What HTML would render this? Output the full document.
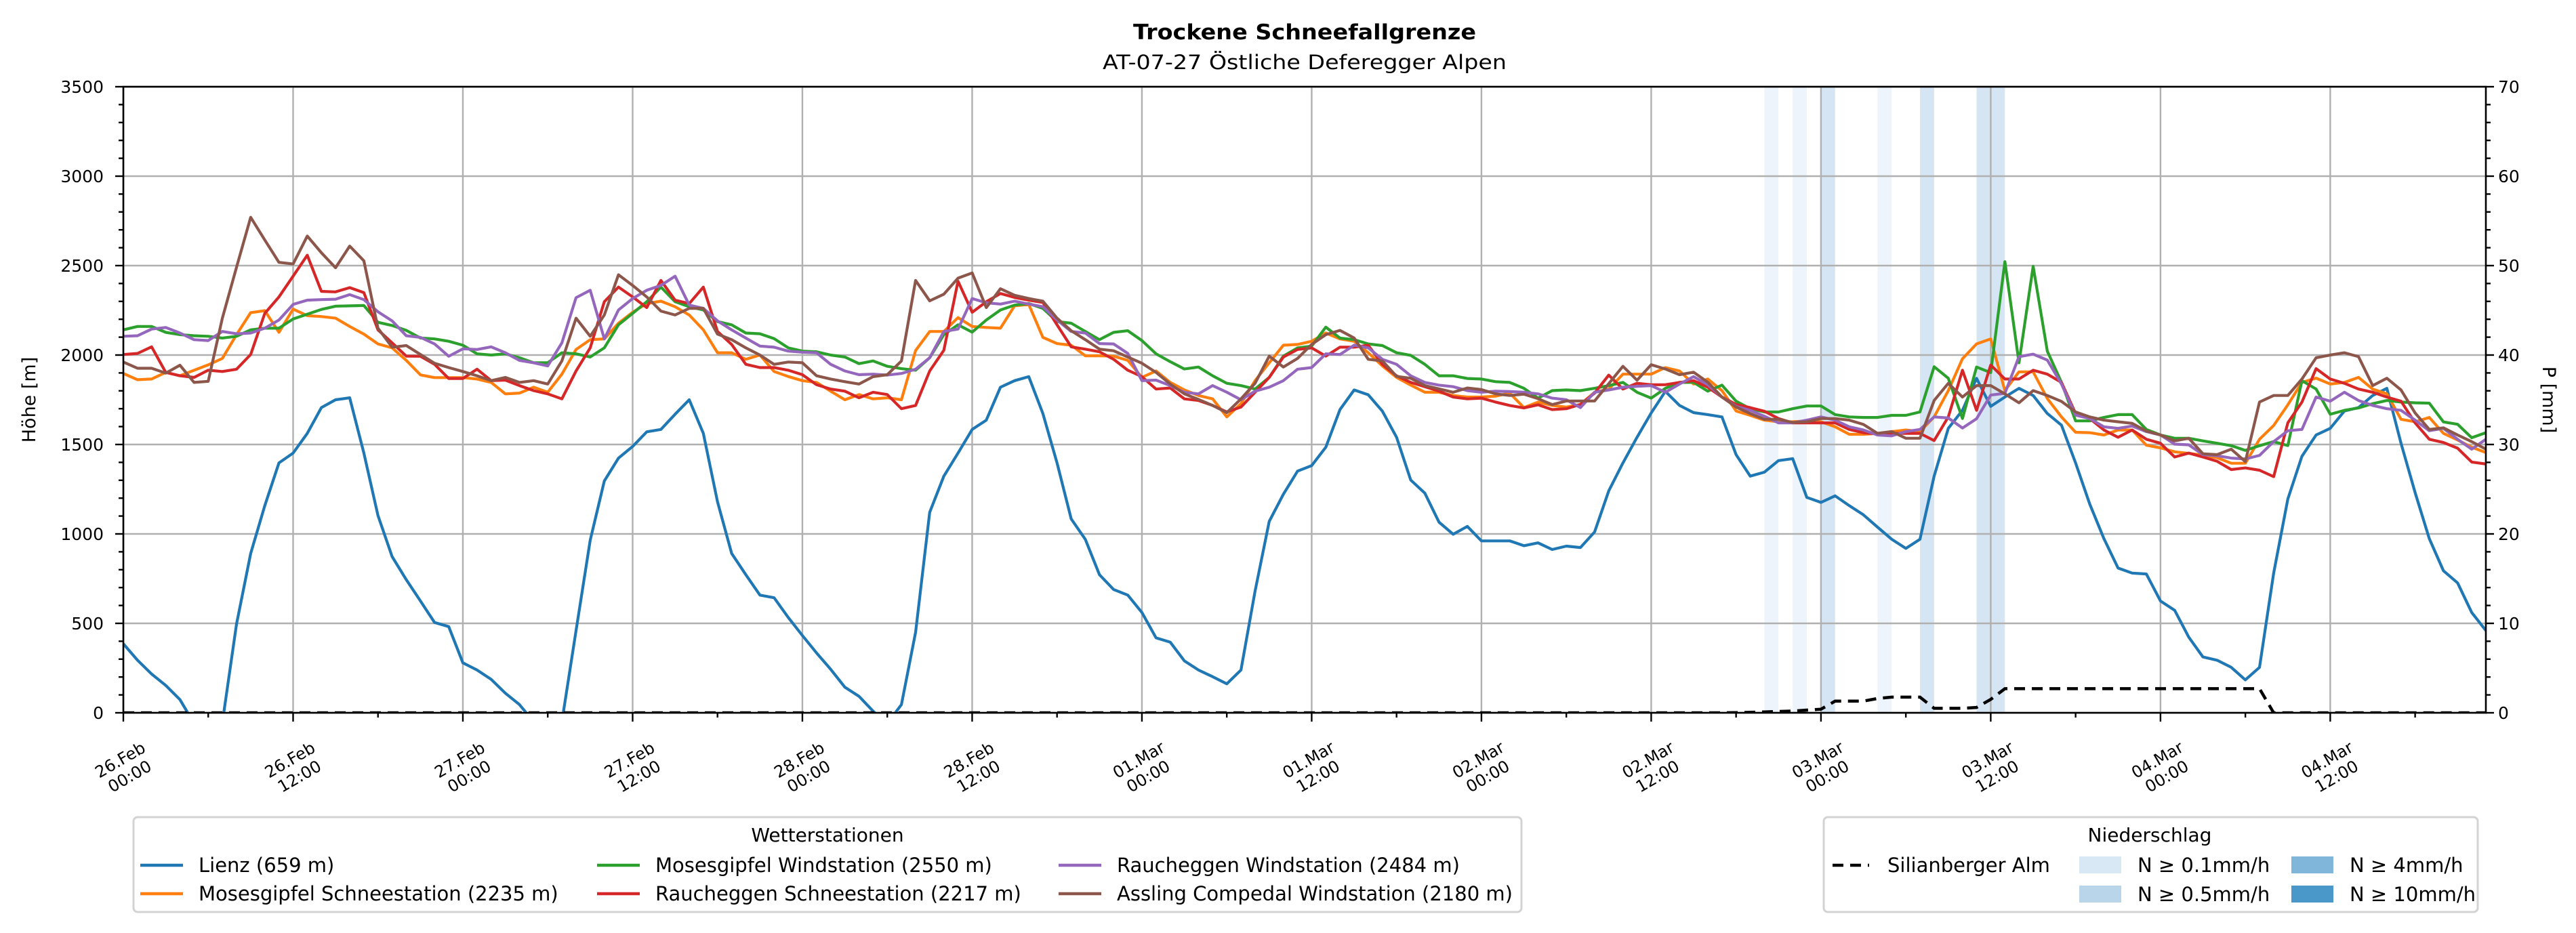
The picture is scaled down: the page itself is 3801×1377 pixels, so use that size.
<!DOCTYPE html>
<html><head><meta charset="utf-8">
<style>
html,body{margin:0;padding:0;background:#fff;}
svg{display:block;}
text{font-family:"DejaVu Sans","Liberation Sans",sans-serif;fill:#000;}
</style></head>
<body>
<svg id="chart" width="3801" height="1377" viewBox="0 0 3801 1377" xmlns="http://www.w3.org/2000/svg">
<defs><clipPath id="plotclip"><rect x="182" y="128" width="3486" height="924"/></clipPath></defs>
<rect x="0" y="0" width="3801" height="1377" fill="#fff"/>
<text x="1925" y="58" text-anchor="middle" font-size="31" font-weight="bold" textLength="506" lengthAdjust="spacingAndGlyphs">Trockene Schneefallgrenze</text>
<text x="1925" y="102" text-anchor="middle" font-size="29" textLength="596" lengthAdjust="spacingAndGlyphs">AT-07-27 Östliche Deferegger Alpen</text>
<g id="bands" clip-path="url(#plotclip)"></g>
<g id="grid"></g>
<g id="series" clip-path="url(#plotclip)"></g>
<g id="axes"></g>
<text x="52" y="590" text-anchor="middle" font-size="27" transform="rotate(-90 52 590)">Höhe [m]</text>
<text x="3752" y="590" text-anchor="middle" font-size="27" transform="rotate(90 3752 590)">P [mm]</text>
<g id="legend1"></g>
<g id="legend2"></g>
</svg>
<script>
const stationNames = ["Lienz (659 m)","Mosesgipfel Schneestation (2235 m)","Mosesgipfel Windstation (2550 m)","Raucheggen Schneestation (2217 m)","Raucheggen Windstation (2484 m)","Assling Compedal Windstation (2180 m)"];
const lienz = [386,294,217,153,74,-60,-150,-55,496,891,1158,1397,1452,1562,1706,1750,1761,1452,1103,873,744,625,505,482,279,239,187,110,46,-50,-150,-50,460,965,1296,1424,1489,1571,1584,1669,1750,1562,1180,891,772,658,643,533,432,335,243,143,92,9,-60,46,450,1121,1323,1452,1584,1636,1820,1857,1879,1673,1397,1084,970,772,689,658,561,419,395,290,239,202,162,239,680,1070,1222,1351,1382,1485,1695,1805,1778,1686,1540,1301,1228,1066,998,1042,961,961,961,934,950,913,932,924,1011,1241,1397,1540,1676,1797,1718,1678,1667,1654,1443,1323,1345,1410,1421,1204,1176,1213,1158,1107,1038,970,919,970,1323,1590,1691,1870,1713,1765,1814,1774,1673,1608,1397,1167,974,809,781,776,625,573,423,312,294,254,184,254,781,1195,1434,1553,1590,1687,1706,1774,1814,1507,1231,974,794,726,561,460];
const mosesSchnee = [1897,1862,1866,1903,1884,1915,1945,1981,2114,2237,2248,2127,2257,2220,2215,2206,2160,2117,2062,2040,1970,1889,1874,1874,1874,1866,1847,1783,1787,1820,1792,1893,2031,2086,2090,2178,2239,2288,2301,2270,2224,2141,2013,2013,1976,2000,1908,1880,1857,1847,1798,1750,1779,1755,1761,1750,2025,2132,2132,2209,2160,2154,2150,2275,2283,2099,2064,2055,1996,1996,1994,1970,1875,1911,1847,1805,1774,1755,1654,1728,1857,1957,2055,2059,2077,2123,2090,2077,2013,1939,1875,1832,1792,1792,1774,1765,1765,1770,1787,1706,1737,1718,1709,1724,1792,1810,1893,1893,1893,1930,1911,1838,1866,1801,1687,1663,1636,1627,1627,1632,1627,1599,1557,1557,1562,1572,1581,1572,1654,1801,1979,2062,2090,1801,1906,1906,1757,1654,1568,1566,1553,1581,1581,1496,1481,1459,1450,1441,1426,1395,1395,1529,1606,1722,1847,1871,1838,1847,1875,1810,1783,1641,1627,1651,1562,1525,1485,1455];
const mosesWind = [2141,2160,2160,2127,2114,2108,2105,2095,2105,2141,2150,2150,2202,2228,2255,2273,2275,2277,2183,2165,2138,2095,2090,2077,2055,2007,2000,2007,1985,1957,1957,2013,2007,1989,2040,2169,2233,2298,2380,2298,2270,2252,2187,2169,2123,2119,2092,2040,2022,2018,2000,1989,1952,1967,1937,1924,1915,1985,2114,2169,2128,2196,2252,2279,2288,2261,2187,2178,2132,2086,2127,2136,2081,2007,1963,1922,1933,1884,1842,1829,1810,1875,1994,2040,2050,2156,2095,2086,2062,2053,2013,1998,1948,1884,1884,1869,1866,1851,1847,1814,1759,1801,1805,1801,1814,1829,1847,1792,1759,1814,1847,1847,1798,1832,1742,1700,1682,1682,1700,1715,1715,1667,1654,1651,1651,1663,1663,1682,1935,1870,1645,1933,1902,2522,1957,2496,2022,1847,1632,1632,1651,1667,1667,1584,1553,1535,1535,1520,1507,1493,1467,1493,1516,1494,1857,1810,1669,1691,1704,1728,1746,1737,1733,1731,1626,1613,1538,1566];
const rauchSchnee = [2003,2009,2046,1903,1884,1875,1915,1908,1921,2003,2233,2325,2441,2558,2356,2353,2377,2349,2141,2068,1994,1993,1948,1869,1869,1921,1857,1860,1829,1801,1783,1755,1911,2040,2298,2380,2325,2265,2417,2307,2288,2380,2132,2059,1948,1930,1930,1915,1890,1834,1810,1798,1761,1792,1779,1700,1718,1911,2027,2413,2239,2298,2344,2322,2307,2294,2169,2046,2033,2018,1976,1915,1879,1810,1816,1755,1746,1718,1682,1709,1792,1875,1989,2031,2040,1994,2044,2044,2055,1948,1884,1847,1823,1798,1765,1755,1759,1737,1718,1704,1722,1695,1700,1724,1787,1888,1810,1842,1834,1834,1847,1857,1820,1765,1724,1706,1686,1645,1621,1621,1621,1621,1584,1566,1559,1562,1562,1562,1522,1654,1915,1691,1944,1866,1866,1915,1893,1847,1673,1645,1581,1540,1581,1529,1507,1430,1452,1430,1406,1360,1369,1356,1320,1621,1737,1924,1866,1842,1810,1792,1765,1742,1621,1529,1511,1479,1402,1391];
const rauchWind = [2105,2108,2145,2154,2123,2086,2081,2132,2119,2123,2150,2196,2283,2307,2310,2312,2338,2310,2242,2191,2108,2099,2062,1993,2035,2031,2046,2013,1970,1957,1939,2068,2321,2362,2090,2252,2316,2362,2389,2441,2279,2261,2191,2141,2095,2050,2044,2022,2016,2013,1948,1911,1890,1893,1888,1897,1921,1985,2132,2145,2316,2292,2285,2301,2285,2270,2196,2132,2123,2064,2062,2009,1857,1860,1829,1792,1783,1829,1792,1750,1798,1820,1857,1921,1930,2007,2003,2055,2040,1976,1948,1884,1847,1832,1823,1801,1792,1798,1796,1792,1783,1759,1750,1706,1792,1805,1820,1825,1829,1792,1838,1879,1834,1765,1713,1691,1658,1621,1621,1636,1654,1636,1599,1581,1553,1548,1572,1584,1654,1648,1592,1644,1776,1786,1991,2005,1972,1838,1664,1645,1599,1590,1603,1572,1553,1502,1498,1443,1437,1424,1419,1439,1516,1577,1584,1765,1742,1792,1746,1718,1700,1691,1636,1577,1590,1529,1474,1529];
const assling = [1961,1926,1926,1899,1943,1847,1853,2206,2491,2770,2643,2518,2509,2665,2572,2488,2609,2527,2150,2044,2053,2003,1954,1930,1908,1884,1857,1875,1847,1857,1838,1967,2206,2105,2224,2449,2389,2325,2246,2224,2261,2261,2117,2086,2040,2000,1948,1961,1957,1884,1866,1851,1838,1879,1890,1967,2417,2303,2340,2430,2459,2265,2371,2334,2316,2301,2206,2136,2086,2033,2024,1989,1954,1903,1838,1783,1752,1718,1678,1755,1842,1994,1933,1981,2059,2114,2138,2095,1976,1967,1881,1870,1829,1811,1792,1816,1807,1783,1774,1781,1756,1723,1743,1743,1743,1840,1937,1859,1946,1922,1890,1904,1848,1765,1709,1673,1641,1641,1623,1627,1645,1645,1636,1612,1562,1572,1535,1535,1746,1842,1765,1829,1829,1783,1733,1801,1774,1741,1682,1654,1636,1627,1618,1575,1553,1520,1535,1448,1443,1474,1404,1737,1774,1774,1866,1985,2000,2013,1991,1829,1870,1805,1676,1584,1593,1553,1516,1474];
const precipSilian = [0,0,0,0,0,0,0,0,0,0,0,0,0,0,0,0,0,0,0,0,0,0,0,0,0,0,0,0,0,0,0,0,0,0,0,0,0,0,0,0,0,0,0,0,0,0,0,0,0,0,0,0,0,0,0,0,0,0,0,0,0,0,0,0,0,0,0,0,0,0,0,0,0,0,0,0,0,0,0,0,0,0,0,0,0,0,0,0,0,0,0,0,0,0,0,0,0,0,0,0,0,0,0,0,0,0,0,0,0,0,0,0,0,0,0.02,0.05,0.1,0.15,0.2,0.3,0.4,1.3,1.3,1.3,1.6,1.75,1.75,1.75,0.5,0.5,0.5,0.6,1.5,2.7,2.7,2.7,2.7,2.7,2.7,2.7,2.7,2.7,2.7,2.7,2.7,2.7,2.7,2.7,2.7,2.7,2.7,2.7,0,0,0,0,0,0,0,0,0,0,0,0,0,0,0,0];
const bandHours = [116,118,120,124,127,131,132];
const bandLevels = [0.1,0.1,0.5,0.1,0.5,0.5,0.5];
const leftTicks = [0,500,1000,1500,2000,2500,3000,3500];
const rightTicks = [0,10,20,30,40,50,60,70];
const dateLabels = ["26.Feb","26.Feb","27.Feb","27.Feb","28.Feb","28.Feb","01.Mar","01.Mar","02.Mar","02.Mar","03.Mar","03.Mar","04.Mar","04.Mar"];
const timeLabels = ["00:00","12:00","00:00","12:00","00:00","12:00","00:00","12:00","00:00","12:00","00:00","12:00","00:00","12:00"];
const levelNames = ["N ≥ 0.1mm/h","N ≥ 0.5mm/h","N ≥ 4mm/h","N ≥ 10mm/h"];

const NS="http://www.w3.org/2000/svg";
const X0=182,X1=3668,Y0=1052,Y1=128,HMAX=167,VMAX=3500,PMAX=70;
function xS(h){return X0+h*(X1-X0)/HMAX;}
function yL(v){return Y0-v*(Y0-Y1)/VMAX;}
function yR(p){return Y0-p*(Y0-Y1)/PMAX;}
function mk(tag,attrs,parent){const e=document.createElementNS(NS,tag);for(const k in attrs)e.setAttribute(k,attrs[k]);parent.appendChild(e);return e;}
const colors=["#1f77b4","#ff7f0e","#2ca02c","#d62728","#9467bd","#8c564b"];
const seriesData=[lienz,mosesSchnee,mosesWind,rauchSchnee,rauchWind,assling];
const seriesKeys=["lienz","mosesgipfel-schnee","mosesgipfel-wind","raucheggen-schnee","raucheggen-wind","assling-compedal"];
const bandFill={0.1:"#edf4fb",0.5:"#d5e5f3",4:"#a9cde6",10:"#7fb3d8"};
const legendFill=["#d8e8f5","#b8d5ea","#7fb6d9","#4a97c9"];

const gB=document.getElementById('bands');
for(let i=0;i<bandHours.length;i++){
  const r=mk('rect',{x:xS(bandHours[i]),y:Y1,width:xS(bandHours[i]+1)-xS(bandHours[i]),height:Y0-Y1,fill:bandFill[bandLevels[i]]},gB);
  
  
}
const gG=document.getElementById('grid');
for(const v of leftTicks){
  const l=mk('line',{x1:X0,x2:X1,y1:yL(v),y2:yL(v),stroke:"#b0b0b0","stroke-width":2.4},gG);
  
  
}
for(let i=0;i<dateLabels.length;i++){
  const x=xS(i*12);
  const l=mk('line',{x1:x,x2:x,y1:Y1,y2:Y0,stroke:"#b0b0b0","stroke-width":2.4},gG);
  
  
}
const gS=document.getElementById('series');
for(let s=0;s<seriesData.length;s++){
  const d=seriesData[s].map((v,h)=>(h?'L':'M')+xS(h).toFixed(1)+','+yL(v).toFixed(1)).join('');
  const p=mk('path',{d:d,fill:"none",stroke:colors[s],"stroke-width":4.2,"stroke-linejoin":"round"},gS);
  
  
}
{
  const d=precipSilian.map((v,h)=>(h?'L':'M')+xS(h).toFixed(1)+','+yR(v).toFixed(1)).join('');
  const p=mk('path',{d:d,fill:"none",stroke:"#000","stroke-width":4.5,"stroke-dasharray":"16 10"},gS);
  
  
}
const gA=document.getElementById('axes');
mk('rect',{x:X0,y:Y1,width:X1-X0,height:Y0-Y1,fill:"none",stroke:"#000","stroke-width":2.6},gA);
for(let v=0;v<=VMAX;v+=100){
  const major=v%500===0;
  mk('line',{x1:X0,x2:X0-(major?12:7),y1:yL(v),y2:yL(v),stroke:"#000","stroke-width":2.4},gA);
}
for(const v of leftTicks){
  const t=mk('text',{x:153,y:yL(v)+9,"text-anchor":"end","font-size":25},gA);
  t.textContent=v;
  
  
}
for(let p=0;p<=PMAX;p+=2){
  const major=p%10===0;
  mk('line',{x1:X1,x2:X1+(major?12:7),y1:yR(p),y2:yR(p),stroke:"#000","stroke-width":2.4},gA);
}
for(const p of rightTicks){
  const t=mk('text',{x:3686,y:yR(p)+9,"text-anchor":"start","font-size":25},gA);
  t.textContent=p;
  
  
}
for(let h=0;h<=HMAX;h+=6){
  const major=h%12===0;
  mk('line',{x1:xS(h),x2:xS(h),y1:Y0,y2:Y0+(major?13:7),stroke:"#000","stroke-width":2.4},gA);
}
for(let i=0;i<dateLabels.length;i++){
  const cx=xS(i*12)+2, cy=1133;
  const t=mk('text',{x:cx,y:cy,"text-anchor":"middle","font-size":24,transform:`rotate(-30 ${cx} ${cy})`},gA);
  
  
  const a=mk('tspan',{x:cx,dy:-5},t);a.textContent=dateLabels[i];
  const b=mk('tspan',{x:cx,dy:28},t);b.textContent=timeLabels[i];
}
const g1=document.getElementById('legend1');
mk('rect',{x:197,y:1206,width:2048,height:140,rx:6,fill:"#fff",stroke:"#d3d3d3","stroke-width":3},g1);
{const t=mk('text',{x:1221,y:1242,"text-anchor":"middle","font-size":28},g1);t.textContent="Wetterstationen";

}
const colX=[207,881,1562], rowY=[1277,1319];
for(let k=0;k<6;k++){
  const c=Math.floor(k/2), r=k%2;
  const g=mk('g',{},g1);
  
  
  mk('line',{x1:colX[c],x2:colX[c]+63,y1:rowY[r],y2:rowY[r],stroke:colors[k],"stroke-width":4.5},g);
  const t=mk('text',{x:colX[c]+86,y:rowY[r]+10,"font-size":29},g);t.textContent=stationNames[k];
}
const g2=document.getElementById('legend2');
mk('rect',{x:2691,y:1206,width:965,height:140,rx:6,fill:"#fff",stroke:"#d3d3d3","stroke-width":3},g2);
{const t=mk('text',{x:3172,y:1242,"text-anchor":"middle","font-size":28},g2);t.textContent="Niederschlag";

}
{const g=mk('g',{},g2);


mk('line',{x1:2704,x2:2758,y1:1277,y2:1277,stroke:"#000","stroke-width":4.5,"stroke-dasharray":"16 10"},g);
const t=mk('text',{x:2785,y:1287,"font-size":29},g);t.textContent="Silianberger Alm";}
const pX=[3068,3068,3381,3381], pY=[1264,1307,1264,1307];
for(let i=0;i<4;i++){
  const g=mk('g',{},g2);
  
  
  mk('rect',{x:pX[i],y:pY[i],width:62,height:25,fill:legendFill[i]},g);
  const t=mk('text',{x:pX[i]+86,y:pY[i]+23,"font-size":29},g);t.textContent=levelNames[i];
}
</script>
</body></html>
